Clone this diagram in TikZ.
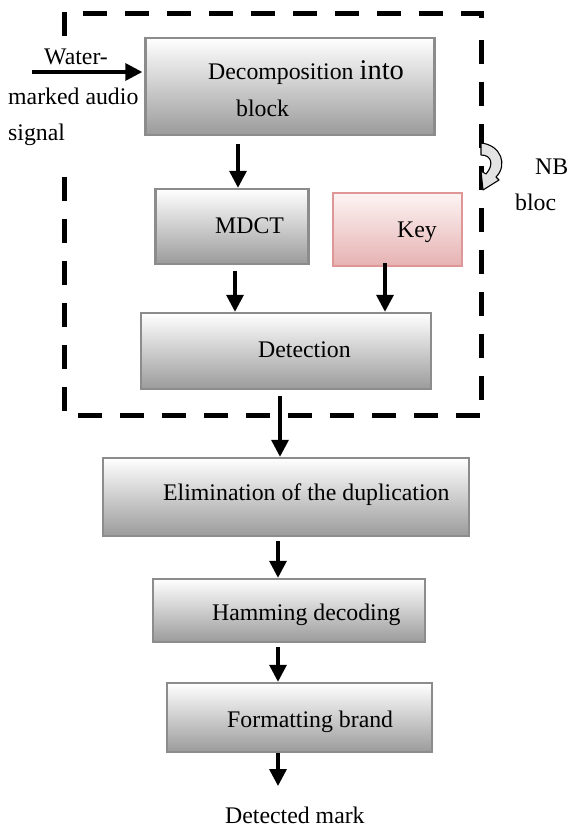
\documentclass[tikz,border=0pt]{standalone}
\usepackage{fontspec}
\setmainfont{Liberation Serif}
\usetikzlibrary{arrows.meta}

\definecolor{boxedge}{RGB}{140,140,140}
\definecolor{boxlow}{RGB}{155,155,155}
\definecolor{keyedge}{RGB}{222,150,150}
\definecolor{keylow}{RGB}{230,178,178}
\definecolor{keytop}{RGB}{253,244,244}

\tikzset{
  stage/.style={rectangle, draw=boxedge, line width=2.4pt,
    top color=white, bottom color=boxlow, inner sep=0pt},
  keybox/.style={rectangle, draw=keyedge, line width=2.2pt,
    top color=keytop, bottom color=keylow, inner sep=0pt},
  lbl/.style={anchor=base west, inner sep=0pt, font=\fontsize{23.8}{28}\selectfont},
  flow/.style={line width=3.4pt, -{Triangle[length=17pt,width=17pt]}},
  frame/.style={line width=5pt, dash pattern=on 24pt off 18pt},
}

\begin{document}
\begin{tikzpicture}[x=1pt, y=-1pt]
\useasboundingbox (0,0) rectangle (570,829);

% dashed frame around the per-block processing (left side left open beside the input label)
\draw[frame] (64,12) -- (64,36);
\draw[frame] (64,177) -- (64,415);
\draw[frame] (78,415) -- (481,415);
\draw[frame] (481,40) -- (481,415);
\draw[frame] (83,14) -- (481,14) -- (481,22);

% processing stages
\node[stage, minimum width=289pt, minimum height=97pt] (dec) at (290,86.5) {};
\node[stage, minimum width=153pt, minimum height=75pt] (mdct) at (232,226.5) {};
\node[keybox, minimum width=129pt, minimum height=73pt] (key) at (397.5,229.5) {};
\node[stage, minimum width=290pt, minimum height=76pt] (det) at (286,351) {};
\node[stage, minimum width=366pt, minimum height=78pt] (elim) at (286,497) {};
\node[stage, minimum width=272pt, minimum height=63pt] (ham) at (289,610.5) {};
\node[stage, minimum width=265pt, minimum height=69pt] (fmt) at (299.5,717.5) {};

% stage texts
\node[lbl] (tdec) at (208,80) {Decomposition \fontsize{28.5}{30}\selectfont into};
\node[lbl] (tblock) at (236,117) {block};
\node[lbl] (tmdct) at (215,233) {MDCT};
\node[lbl] (tkey) at (397,237) {Key};
\node[lbl] (tdet) at (258,357) {Detection};
\node[lbl] (telim) at (163,500) {Elimination of the duplication};
\node[lbl] (tham) at (212,620) {Hamming decoding};
\node[lbl] (tfmt) at (227,727) {Formatting brand};
\node[lbl] (tout) at (225,823) {Detected mark};

% input signal labels
\node[lbl] (tin1) at (44,65) {Water-};
\node[lbl] (tin2) at (8,105) {marked audio};
\node[lbl] (tin3) at (8,141) {signal};

% loop labels
\node[lbl] (tnb) at (535,175) {NB};
\node[lbl] (tbloc) at (515,210) {bloc};

% columns of the vertical connectors
\coordinate (cin) at (32,72);
\coordinate (c1) at (238,0);
\coordinate (c2) at (235,0);
\coordinate (c3) at (385,0);
\coordinate (c4) at (280,0);
\coordinate (c5) at (278,0);
\coordinate (cout) at (278,786);

% connectors
\draw[flow] (cin) -- ([xshift=-2pt]dec.west |- cin);
\draw[flow] ([yshift=-8pt]dec.south -| c1) -- (mdct.north -| c1);
\draw[flow] ([yshift=-6pt]mdct.south -| c2) -- (det.north -| c2);
\draw[flow] ([yshift=4pt]key.south -| c3) -- (det.north -| c3);
\draw[flow] ([yshift=-6pt]det.south -| c4) -- (elim.north -| c4);
\draw[flow] ([yshift=-4pt]elim.south -| c5) -- (ham.north -| c5);
\draw[flow] ([yshift=-4pt]ham.south -| c5) -- (fmt.north -| c5);
\draw[flow] (fmt.south -| c5) -- (cout);

% curved loop arrow on the frame
\draw[fill=gray!22, line width=1.1pt, line join=round]
  (481,143) .. controls (501,145) and (508,165) .. (496,177)
  -- (499,180) -- (483,190) -- (481,171) -- (486,174)
  .. controls (494,165) and (492,155) .. (481,155) -- cycle;
\end{tikzpicture}
\end{document}
